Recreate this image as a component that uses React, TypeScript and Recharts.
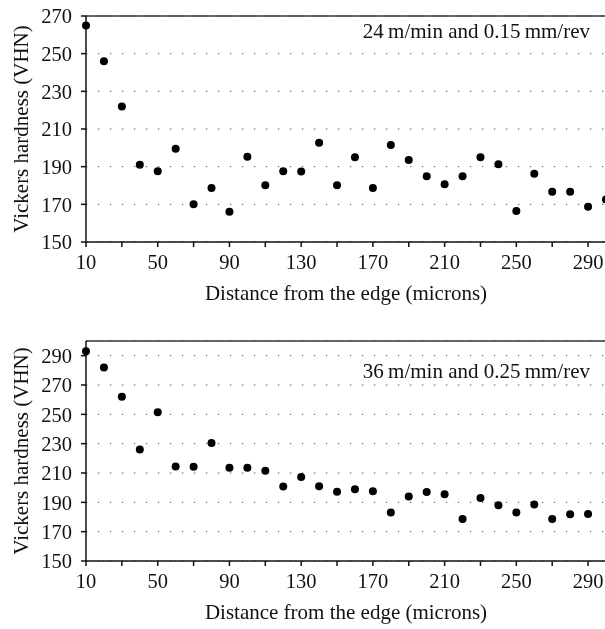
import { ScatterChart, Scatter, XAxis, YAxis, CartesianGrid, Label, ReferenceLine } from 'recharts';

const distance = [10, 20, 30, 40, 50, 60, 70, 80, 90, 100, 110, 120, 130, 140, 150, 160, 170, 180, 190, 200, 210, 220, 230, 240, 250, 260, 270, 280, 290, 300];
const hardnessSlow = [265, 246, 222, 191, 187.6, 199.5, 170, 178.7, 166, 195.2, 180.1, 187.6, 187.4, 202.7, 180.1, 195, 178.7, 201.5, 193.6, 184.9, 180.7, 184.9, 195, 191.3, 166.4, 186.3, 176.7, 176.7, 168.7, 172.6];
const hardnessFast = [293, 282, 262, 226, 251.5, 214.4, 214.2, 230.4, 213.5, 213.5, 211.5, 200.8, 207.2, 201, 197.3, 199, 197.6, 183, 193.9, 197.1, 195.5, 178.7, 193, 188, 183, 188.5, 178.7, 181.9, 182.1];

const xTicks = [10, 30, 50, 70, 90, 110, 130, 150, 170, 190, 210, 230, 250, 270, 290];
const xTickLabels = [10, 50, 90, 130, 170, 210, 250, 290];
const yTicksSlow = [150, 170, 190, 210, 230, 250, 270];
const yTicksFast = [150, 170, 190, 210, 230, 250, 270, 290];

const xTitle = 'Distance from the edge (microns)';
const yTitle = 'Vickers hardness (VHN)';
const noteSlow = '24\u2009m/min and 0.15\u2009mm/rev';
const noteFast = '36\u2009m/min and 0.25\u2009mm/rev';

const TICK_FONT = 20.5;
const TITLE_FONT = 21;
const FAMILY = '"Liberation Serif", "Times New Roman", serif';
const INK = '#111';

type PanelProps = {
  values: number[];
  yDomain: [number, number];
  yTicks: number[];
  note: string;
  noteDy: number;
  top: number;
  marginTop: number;
};

function Panel({ values, yDomain, yTicks, note, noteDy, top, marginTop }: PanelProps) {
  const data = values.map((v, i) => ({ x: distance[i], y: v }));

  const renderYTitle = (props: any) => {
    const vb = props.viewBox;
    const cy = vb.y + vb.height / 2;
    return (
      <text x={28} y={cy} transform={`rotate(-90 28 ${cy})`} textAnchor="middle" fontSize={TITLE_FONT} fontFamily={FAMILY} fill={INK}>
        {yTitle}
      </text>
    );
  };

  const renderXTitle = (props: any) => {
    const vb = props.viewBox;
    return (
      <text x={vb.x + vb.width / 2} y={vb.y + 58} textAnchor="middle" fontSize={TITLE_FONT} fontFamily={FAMILY} fill={INK}>
        {xTitle}
      </text>
    );
  };

  const renderNote = (props: any) => {
    const vb = props.viewBox;
    return (
      <text x={vb.x + vb.width - 16} y={vb.y + noteDy} textAnchor="end" fontSize={TITLE_FONT} fontFamily={FAMILY} fill={INK}>
        {note}
      </text>
    );
  };

  return (
    <div style={{ position: 'absolute', left: 0, top }}>
      <ScatterChart width={640} height={310} margin={{ top: marginTop, right: 34, bottom: 10, left: 0 }}>
        <CartesianGrid horizontal vertical={false} stroke="#555" strokeDasharray="1.3 10.7" />
        <XAxis
          type="number"
          dataKey="x"
          domain={[10, 300]}
          ticks={xTicks}
          interval={0}
          tickFormatter={(v: number) => (xTickLabels.includes(v) ? String(v) : '')}
          height={58}
          tickSize={5}
          tickMargin={7}
          tick={{ fontSize: TICK_FONT, fill: INK, fontFamily: FAMILY }}
          stroke={INK}
          strokeWidth={1.5}
        >
          <Label content={renderXTitle} />
        </XAxis>
        <YAxis
          type="number"
          dataKey="y"
          domain={yDomain}
          ticks={yTicks}
          interval={0}
          width={86}
          tickSize={5}
          tickMargin={9}
          tick={{ fontSize: TICK_FONT, fill: INK, fontFamily: FAMILY }}
          stroke={INK}
          strokeWidth={1.5}
        >
          <Label content={renderYTitle} />
        </YAxis>
        <ReferenceLine y={yDomain[1]} stroke="#333" strokeWidth={1.5} label={renderNote} />
        <Scatter
          data={data}
          isAnimationActive={false}
          shape={(p: any) => <circle cx={p.cx} cy={p.cy} r={4} fill="#000" />}
        />
      </ScatterChart>
    </div>
  );
}

export default function App() {
  return (
    <div style={{ position: 'fixed', left: 0, top: 0, width: 605, height: 629, overflow: 'hidden', fontFamily: FAMILY }}>
      <Panel values={hardnessSlow} yDomain={[150, 270]} yTicks={yTicksSlow} note={noteSlow} noteDy={22} top={0} marginTop={16} />
      <Panel values={hardnessFast} yDomain={[150, 300]} yTicks={yTicksFast} note={noteFast} noteDy={37} top={319} marginTop={22} />
    </div>
  );
}
